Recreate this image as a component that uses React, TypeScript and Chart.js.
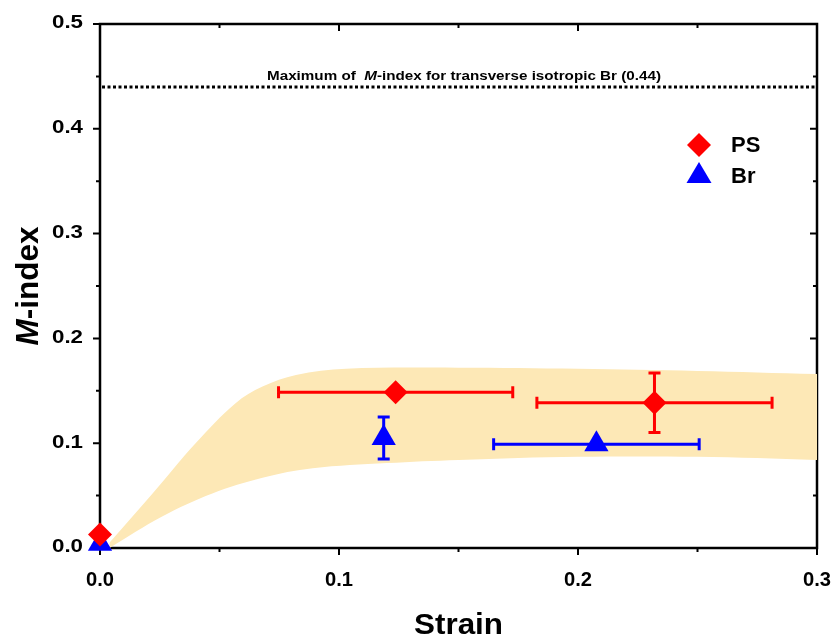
import React, { useEffect, useRef } from "react";
import { Chart, registerables } from "chart.js";

Chart.register(...registerables);

// ---------- data ----------
const xTickValues = [0, 0.1, 0.2, 0.3];
const xTickLabels = ["0.0", "0.1", "0.2", "0.3"];
const xMinorTicks = [0.05, 0.15, 0.25];
const yTickValues = [0, 0.1, 0.2, 0.3, 0.4, 0.5];
const yTickLabels = ["0.0", "0.1", "0.2", "0.3", "0.4", "0.5"];
const yMinorTicks = [0.05, 0.15, 0.25, 0.35, 0.45];

const psX = [0, 0.1237, 0.232];
const psY = [0.013, 0.1486, 0.1385];
const psXErr = [0, 0.049, 0.0492];
const psYErr = [0, 0, 0.0284];

const brX = [0, 0.1187, 0.2077];
const brY = [0.004, 0.105, 0.099];
const brXErr = [0, 0, 0.043];
const brYErr = [0, 0.02, 0];

const bandUpperX = [0.002, 0.022, 0.04, 0.0566, 0.068, 0.082, 0.103, 0.15, 0.2, 0.25, 0.3];
const bandUpperY = [0, 0.052, 0.1, 0.138, 0.154, 0.165, 0.171, 0.172, 0.171, 0.169, 0.166];
const bandLowerX = [0.004, 0.026, 0.047, 0.068, 0.089, 0.12, 0.15, 0.2, 0.25, 0.3];
const bandLowerY = [0, 0.03, 0.052, 0.067, 0.076, 0.081, 0.084, 0.087, 0.087, 0.084];

const maxLineValue = 0.44;
const annotationRuns = [
  { t: "Maximum of  ", italic: false },
  { t: "M", italic: true },
  { t: "-index for transverse isotropic Br (0.44)", italic: false },
];
const xTitle = "Strain";
const yTitleRuns = [
  { t: "M", italic: true },
  { t: "-index", italic: false },
];
const legendItems = [
  { label: "PS", style: "rectRot", color: "#FF0000" },
  { label: "Br", style: "triangle", color: "#0000FF" },
];

const FONT = "'Liberation Sans', Arial, 'DejaVu Sans', sans-serif";
const RED = "#FF0000";
const BLUE = "#0000FF";
const BAND = "#FDE8B6";

type Run = { t: string; italic: boolean };

function drawRuns(
  ctx: CanvasRenderingContext2D,
  runs: Run[],
  x: number,
  y: number,
  size: number,
  targetWidth?: number
) {
  ctx.save();
  ctx.textBaseline = "alphabetic";
  ctx.textAlign = "left";
  let total = 0;
  const widths: number[] = [];
  for (const r of runs) {
    ctx.font = `${r.italic ? "italic " : ""}bold ${size}px ${FONT}`;
    const w = ctx.measureText(r.t).width;
    widths.push(w);
    total += w;
  }
  const sx = targetWidth ? targetWidth / total : 1;
  ctx.translate(x, y);
  ctx.scale(sx, 1);
  let cx = -total / 2;
  runs.forEach((r, i) => {
    ctx.font = `${r.italic ? "italic " : ""}bold ${size}px ${FONT}`;
    ctx.fillText(r.t, cx, 0);
    cx += widths[i];
  });
  ctx.restore();
}

export default function App() {
  const ref = useRef<HTMLCanvasElement>(null);

  useEffect(() => {
    document.body.style.margin = "0";
    const canvas = ref.current!;

    const errorSets: Record<number, { xs: number[]; ys: number[]; ex: number[]; ey: number[]; color: string }> = {
      2: { xs: psX, ys: psY, ex: psXErr, ey: psYErr, color: RED },
      3: { xs: brX, ys: brY, ex: brXErr, ey: brYErr, color: BLUE },
    };

    const errPlugin = {
      id: "errbars",
      beforeDatasetDraw(chart: any, args: any) {
        const e = errorSets[args.index];
        if (!e) return;
        const xs = chart.scales.x;
        const ys = chart.scales.y;
        const ctx: CanvasRenderingContext2D = chart.ctx;
        ctx.save();
        ctx.strokeStyle = e.color;
        ctx.lineWidth = 3;
        const cap = 6;
        for (let i = 0; i < e.xs.length; i++) {
          const px = xs.getPixelForValue(e.xs[i]);
          const py = ys.getPixelForValue(e.ys[i]);
          if (e.ex[i] > 0) {
            const l = xs.getPixelForValue(e.xs[i] - e.ex[i]);
            const r = xs.getPixelForValue(e.xs[i] + e.ex[i]);
            ctx.beginPath();
            ctx.moveTo(l, py);
            ctx.lineTo(r, py);
            ctx.moveTo(l, py - cap);
            ctx.lineTo(l, py + cap);
            ctx.moveTo(r, py - cap);
            ctx.lineTo(r, py + cap);
            ctx.stroke();
          }
          if (e.ey[i] > 0) {
            const t = ys.getPixelForValue(e.ys[i] + e.ey[i]);
            const b = ys.getPixelForValue(e.ys[i] - e.ey[i]);
            ctx.beginPath();
            ctx.moveTo(px, t);
            ctx.lineTo(px, b);
            ctx.moveTo(px - cap, t);
            ctx.lineTo(px + cap, t);
            ctx.moveTo(px - cap, b);
            ctx.lineTo(px + cap, b);
            ctx.stroke();
          }
        }
        ctx.restore();
      },
    };

    const framePlugin = {
      id: "frame",
      beforeDatasetsDraw(chart: any) {
        const ctx: CanvasRenderingContext2D = chart.ctx;
        const a = chart.chartArea;
        const xs = chart.scales.x;
        const ys = chart.scales.y;
        ctx.save();
        ctx.strokeStyle = "#000";
        ctx.lineWidth = 2.5;
        ctx.strokeRect(a.left, a.top, a.right - a.left, a.bottom - a.top);
        const major = 7;
        const minor = 4;
        ctx.lineWidth = 2;
        ctx.beginPath();
        const xt = (v: number, len: number) => {
          const p = xs.getPixelForValue(v);
          ctx.moveTo(p, a.bottom);
          ctx.lineTo(p, a.bottom + len);
          ctx.moveTo(p, a.top);
          ctx.lineTo(p, a.top + len);
        };
        const yt = (v: number, len: number) => {
          const p = ys.getPixelForValue(v);
          ctx.moveTo(a.left, p);
          ctx.lineTo(a.left - len, p);
          ctx.moveTo(a.right, p);
          ctx.lineTo(a.right - len, p);
        };
        xTickValues.forEach((v) => xt(v, major));
        xMinorTicks.forEach((v) => xt(v, minor));
        yTickValues.forEach((v) => yt(v, major));
        yMinorTicks.forEach((v) => yt(v, minor));
        ctx.stroke();

        // tick labels
        ctx.fillStyle = "#000";
        xTickValues.forEach((v, i) => {
          drawRuns(ctx, [{ t: xTickLabels[i], italic: false }], xs.getPixelForValue(v), a.bottom + 38, 19.5, 28);
        });
        yTickValues.forEach((v, i) => {
          drawRuns(ctx, [{ t: yTickLabels[i], italic: false }], a.left - 32.5, ys.getPixelForValue(v) + 4.3, 17.5, 31);
        });
        ctx.restore();
      },
    };

    const overlayPlugin = {
      id: "overlay",
      afterDraw(chart: any) {
        const ctx: CanvasRenderingContext2D = chart.ctx;
        const a = chart.chartArea;
        const ys = chart.scales.y;
        ctx.save();
        // dotted max line
        const py = ys.getPixelForValue(maxLineValue);
        ctx.strokeStyle = "#000";
        ctx.lineWidth = 3;
        ctx.setLineDash([3, 2.5]);
        ctx.beginPath();
        ctx.moveTo(a.left + 2, py);
        ctx.lineTo(a.right - 2, py);
        ctx.stroke();
        ctx.setLineDash([]);
        ctx.fillStyle = "#000";
        drawRuns(ctx, annotationRuns, 464, py - 7, 13, 394);

        // legend
        legendItems.forEach((it, i) => {
          const cy = 145 + i * 31;
          ctx.fillStyle = it.color;
          ctx.beginPath();
          if (it.style === "rectRot") {
            const r = 12;
            ctx.moveTo(699, cy - r);
            ctx.lineTo(699 + r, cy);
            ctx.lineTo(699, cy + r);
            ctx.lineTo(699 - r, cy);
          } else {
            ctx.moveTo(699, cy - 14);
            ctx.lineTo(699 + 12.5, cy + 7);
            ctx.lineTo(699 - 12.5, cy + 7);
          }
          ctx.closePath();
          ctx.fill();
          ctx.fillStyle = "#000";
          ctx.font = `bold 22px ${FONT}`;
          ctx.textAlign = "left";
          ctx.textBaseline = "middle";
          ctx.fillText(it.label, 731, cy + 1);
        });

        // axis titles
        ctx.fillStyle = "#000";
        drawRuns(ctx, [{ t: xTitle, italic: false }], (a.left + a.right) / 2, 634, 30, 89);
        ctx.save();
        ctx.translate(38, (a.top + a.bottom) / 2);
        ctx.rotate(-Math.PI / 2);
        drawRuns(ctx, yTitleRuns, 0, 0, 31, 119);
        ctx.restore();
        ctx.restore();
      },
    };

    const pts = (xs: number[], ys: number[]) => xs.map((x, i) => ({ x, y: ys[i] }));

    const chart = new Chart(canvas, {
      type: "scatter",
      data: {
        datasets: [
          {
            label: "band upper",
            data: pts(bandUpperX, bandUpperY),
            showLine: true,
            borderWidth: 0,
            borderColor: "rgba(0,0,0,0)",
            pointRadius: 0,
            backgroundColor: BAND,
            fill: "+1",
            tension: 0.35,
            order: 10,
          } as any,
          {
            label: "band lower",
            data: pts(bandLowerX, bandLowerY),
            showLine: true,
            borderWidth: 0,
            borderColor: "rgba(0,0,0,0)",
            pointRadius: 0,
            fill: false,
            tension: 0.35,
            order: 11,
          } as any,
          {
            label: "PS",
            data: pts(psX, psY),
            pointStyle: "rectRot",
            pointRadius: 12,
            pointHoverRadius: 12,
            backgroundColor: RED,
            borderColor: RED,
            borderWidth: 0,
            clip: false,
            order: 0,
          } as any,
          {
            label: "Br",
            data: pts(brX, brY),
            pointStyle: "triangle",
            pointRadius: 14,
            pointHoverRadius: 14,
            backgroundColor: BLUE,
            borderColor: BLUE,
            borderWidth: 0,
            clip: false,
            order: 1,
          } as any,
        ],
      },
      options: {
        responsive: false,
        animation: false,
        events: [],
        layout: { padding: { top: 24, right: 16, left: 0, bottom: 0 } },
        plugins: {
          legend: { display: false },
          tooltip: { enabled: false },
        },
        scales: {
          x: {
            type: "linear",
            min: 0,
            max: 0.3,
            grid: { display: false, drawTicks: false },
            border: { display: false },
            ticks: { display: false, stepSize: 0.1 },
            afterFit: (s: any) => {
              s.height = 89;
            },
          },
          y: {
            type: "linear",
            min: 0,
            max: 0.5,
            grid: { display: false, drawTicks: false },
            border: { display: false },
            ticks: { display: false, stepSize: 0.1 },
            afterFit: (s: any) => {
              s.width = 100;
            },
          },
        },
      } as any,
      plugins: [errPlugin, framePlugin, overlayPlugin],
    });

    return () => chart.destroy();
  }, []);

  return (
    <div style={{ width: 833, height: 637 }}>
      <canvas ref={ref} width={833} height={637} style={{ display: "block" }} />
    </div>
  );
}
